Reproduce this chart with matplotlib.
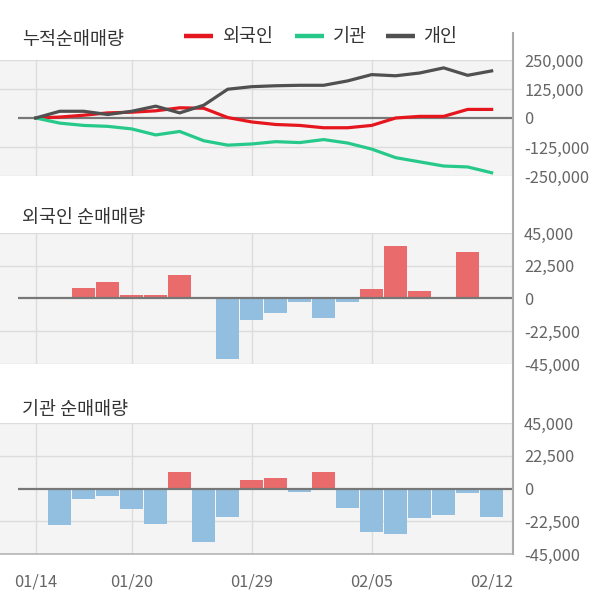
import matplotlib
matplotlib.use("Agg")
import matplotlib.pyplot as plt
from matplotlib.lines import Line2D
import numpy as np

plt.rcParams['font.family'] = ['Noto Sans CJK KR', 'DejaVu Sans']

dates = ['01/14', '01/15', '01/16', '01/17', '01/20', '01/21', '01/22', '01/23', '01/28', '01/29',
         '01/30', '01/31', '02/03', '02/04', '02/05', '02/06', '02/07', '02/10', '02/11', '02/12']
foreign_cum = [0, 4000, 12000, 22000, 25000, 31000, 44000, 42000, 2000, -17000,
               -28000, -32000, -42000, -42000, -32000, 0, 7000, 7000, 37000, 37000]
inst_cum = [0, -22000, -32000, -36000, -47000, -73000, -58000, -98000, -117000, -112000,
            -102000, -106000, -93000, -108000, -134000, -171000, -189000, -207000, -211000, -236000]
indiv_cum = [0, 29000, 29000, 15000, 29000, 51000, 22000, 55000, 124000, 135000,
             139000, 141000, 141000, 160000, 187000, 182000, 194000, 216000, 184000, 203000]
foreign_net = [0, 0, 7100, 11500, 2300, 2300, 16000, 0, -41800, -14700,
               -9900, -2300, -13300, -2300, 6400, 36000, 5000, 0, 31900, 900]
inst_net = [0, -25000, -7100, -5000, -13800, -24600, 11500, -36700, -19500, 6000,
            7100, -2300, 11500, -13300, -29800, -31500, -20200, -18100, -3000, -19500]

cum_ticks = [250000, 125000, 0, -125000, -250000]
net_ticks = [45000, 22500, 0, -22500, -45000]
xtick_idx = [0, 4, 9, 14, 19]
vgrid_idx = [0, 4, 9, 14]

legend_labels = ['외국인', '기관', '개인']
titles = ['누적순매매량', '외국인 순매매량', '기관 순매매량']

C_RED = '#e5161d'
C_GREEN = '#27c98b'
C_GREY = '#505050'
C_POS = '#e96b6b'
C_NEG = '#92bfe0'
BG = '#f4f4f4'
GRID = '#dcdcdc'
TXT = '#666666'

W, H = 600, 604
fig = plt.figure(figsize=(W / 100, H / 100), dpi=100)
fig.patch.set_facecolor('white')

x = np.arange(len(dates))
XL = (-1.49, 19.89)
ZERO_START = -0.75
TICK_FS = 11.8
TITLE_FS = 13.3


def make_ax(top_px, bot_px):
    ax = fig.add_axes([0, 1 - bot_px / H, 513 / W, (bot_px - top_px) / H])
    ax.set_facecolor(BG)
    for s in ax.spines.values():
        s.set_visible(False)
    ax.set_xlim(*XL)
    ax.yaxis.tick_right()
    ax.tick_params(axis='y', length=0, pad=8, labelsize=TICK_FS, labelcolor=TXT)
    ax.tick_params(axis='x', length=0)
    for xi in vgrid_idx:
        ax.axvline(xi, color=GRID, lw=1, zorder=0.5)
    return ax


def fmt(v):
    return f"{v:,.0f}"


# Top: cumulative
ax1 = make_ax(60, 176)
ax1.set_ylim(-250000, 250000)
ax1.set_yticks(cum_ticks)
ax1.set_yticklabels([fmt(v) for v in cum_ticks])
for v in cum_ticks:
    if v != 0:
        ax1.axhline(v, color=GRID, lw=1, zorder=0.6)
ax1.plot([ZERO_START, XL[1]], [0, 0], color='#777777', lw=1.6, zorder=1, solid_capstyle='butt')
ax1.plot(x, foreign_cum, color=C_RED, lw=2.3, zorder=3)
ax1.plot(x, inst_cum, color=C_GREEN, lw=2.3, zorder=3)
ax1.plot(x, indiv_cum, color=C_GREY, lw=2.3, zorder=3)
ax1.set_xticks([])

# Middle / bottom: net bars
for top_px, bot_px, data, show_x in [(233, 364, foreign_net, False), (423, 554, inst_net, True)]:
    ax = make_ax(top_px, bot_px)
    ax.set_ylim(-45000, 45000)
    ax.set_yticks(net_ticks)
    ax.set_yticklabels([fmt(v) for v in net_ticks])
    for v in net_ticks:
        if v != 0:
            ax.axhline(v, color=GRID, lw=1, zorder=0.6)
    colors = [C_POS if v > 0 else C_NEG for v in data]
    ax.bar(x, data, width=0.94, color=colors, zorder=2)
    ax.plot([ZERO_START, XL[1]], [0, 0], color='#777777', lw=1.6, zorder=3, solid_capstyle='butt')
    if show_x:
        ax.spines['bottom'].set_visible(True)
        ax.spines['bottom'].set_color('#b5b5b5')
        ax.spines['bottom'].set_linewidth(1.2)
        ax.set_xticks(xtick_idx)
        ax.set_xticklabels([dates[i] for i in xtick_idx])
        ax.tick_params(axis='x', pad=14, labelsize=TICK_FS, labelcolor=TXT)
    else:
        ax.set_xticks([])

# Right vertical axis line
fig.add_artist(Line2D([513 / W, 513 / W], [1 - 33 / H, 1 - 554 / H], transform=fig.transFigure,
                      color='#aaaaaa', lw=1.5))

# Titles
for t, ypx in zip(titles, [40, 218, 410]):
    fig.text(22 / W, 1 - ypx / H, t, fontsize=TITLE_FS, color='#333333', va='center', ha='left')

# Legend
leg_items = [(184, 213, 223, C_RED), (295, 324, 333, C_GREEN), (386, 415, 423, C_GREY)]
for (x0, x1, xt, c), lab in zip(leg_items, legend_labels):
    fig.add_artist(Line2D([x0 / W, x1 / W], [1 - 36 / H, 1 - 36 / H], transform=fig.transFigure,
                          color=c, lw=3.2, solid_capstyle='butt'))
    fig.text(xt / W, 1 - 37 / H, lab, fontsize=TITLE_FS, color='#333333', va='center', ha='left')

fig.savefig('out.png', dpi=100, facecolor='white')
